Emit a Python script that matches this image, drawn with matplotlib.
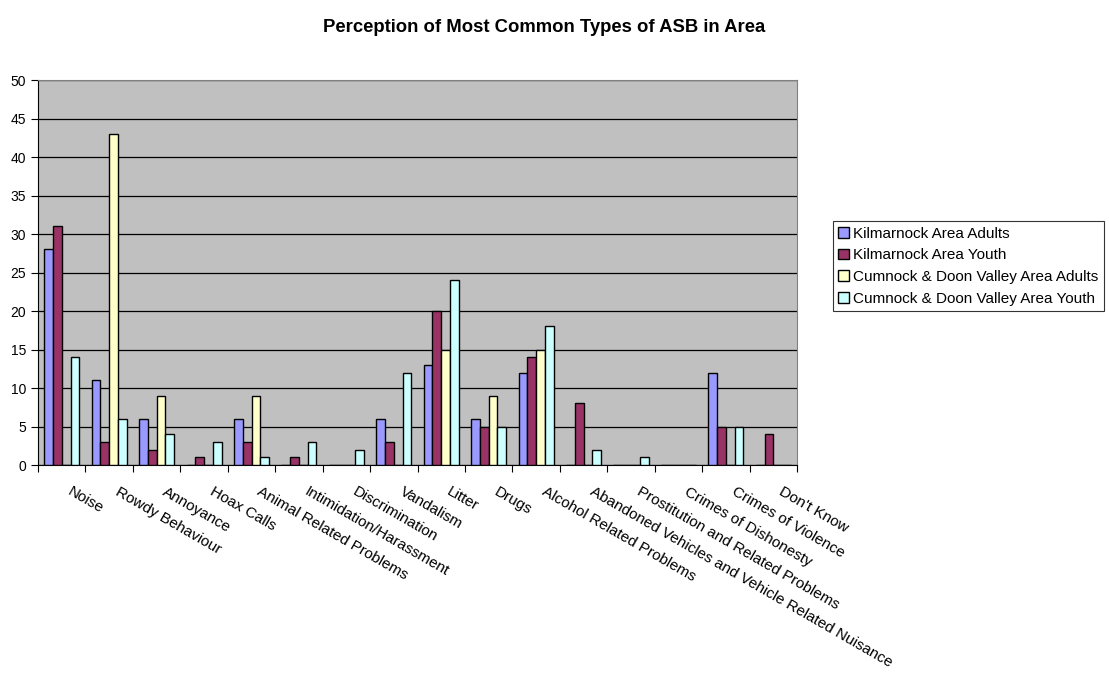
import numpy as np
import matplotlib.pyplot as plt

plt.rcParams['font.family'] = ['Liberation Sans', 'DejaVu Sans']

categories = ["Noise", "Rowdy Behaviour", "Annoyance", "Hoax Calls",
              "Animal Related Problems", "Intimidation/Harassment",
              "Discrimination", "Vandalism", "Litter", "Drugs",
              "Alcohol Related Problems",
              "Abandoned Vehicles and Vehicle Related Nuisance",
              "Prostitution and Related Problems", "Crimes of Dishonesty",
              "Crimes of Violence", "Don't Know"]

kilmarnock_adults = [28, 11, 6, 0, 6, 0, 0, 6, 13, 6, 12, 0, 0, 0, 12, 0]
kilmarnock_youth = [31, 3, 2, 1, 3, 1, 0, 3, 20, 5, 14, 8, 0, 0, 5, 4]
cumnock_adults = [0, 43, 9, 0, 9, 0, 0, 0, 15, 9, 15, 0, 0, 0, 0, 0]
cumnock_youth = [14, 6, 4, 3, 1, 3, 2, 12, 24, 5, 18, 2, 1, 0, 5, 0]

series = [
    ("Kilmarnock Area Adults", kilmarnock_adults, "#9999FF"),
    ("Kilmarnock Area Youth", kilmarnock_youth, "#993366"),
    ("Cumnock & Doon Valley Area Adults", cumnock_adults, "#FFFFCC"),
    ("Cumnock & Doon Valley Area Youth", cumnock_youth, "#CCFFFF"),
]

fig = plt.figure(figsize=(11.09, 6.73), dpi=100)
ax = fig.add_axes([0.0343, 0.309, 0.6844, 0.572])
ax.set_facecolor("#C0C0C0")

x = np.arange(len(categories))
w = 0.185
for i, (name, vals, col) in enumerate(series):
    ax.bar(x + (i - 1.5) * w, vals, w, color=col, edgecolor="black",
           linewidth=1.0, label=name, zorder=3)

ax.set_xlim(-0.5, len(categories) - 0.5)
ax.set_ylim(0, 50)
ax.set_yticks(range(0, 51, 5))
ax.yaxis.grid(True, color="black", linewidth=0.9, zorder=1)
ax.set_axisbelow(True)

# ticks sit between the categories; labels hang a little right of centre
ax.set_xticks(np.arange(-0.5, len(categories)), minor=False)
ax.set_xticklabels([])
ax.set_xticks(x + 0.22, minor=True)
ax.set_xticklabels(categories, minor=True, rotation=-30, ha="left",
                   rotation_mode="anchor", fontsize=11)
ax.tick_params(axis="x", which="minor", length=0, pad=14)
ax.tick_params(axis="x", which="major", length=5, direction="out")
ax.tick_params(axis="y", length=5, labelsize=10, direction="out")

for s in ["top", "right"]:
    ax.spines[s].set_color("#808080")
for s in ["left", "bottom"]:
    ax.spines[s].set_color("black")

fig.suptitle("Perception of Most Common Types of ASB in Area",
             fontsize=13.3, fontweight="bold", x=0.491, y=0.972)

leg = fig.legend(loc="upper left", bbox_to_anchor=(0.751, 0.671),
                 fontsize=11, frameon=True, fancybox=False,
                 handlelength=0.7, handleheight=0.7, handletextpad=0.3,
                 labelspacing=0.5, borderpad=0.35, borderaxespad=0)
leg.get_frame().set_edgecolor("black")
leg.get_frame().set_linewidth(0.8)

fig.savefig("out.png", dpi=100)
